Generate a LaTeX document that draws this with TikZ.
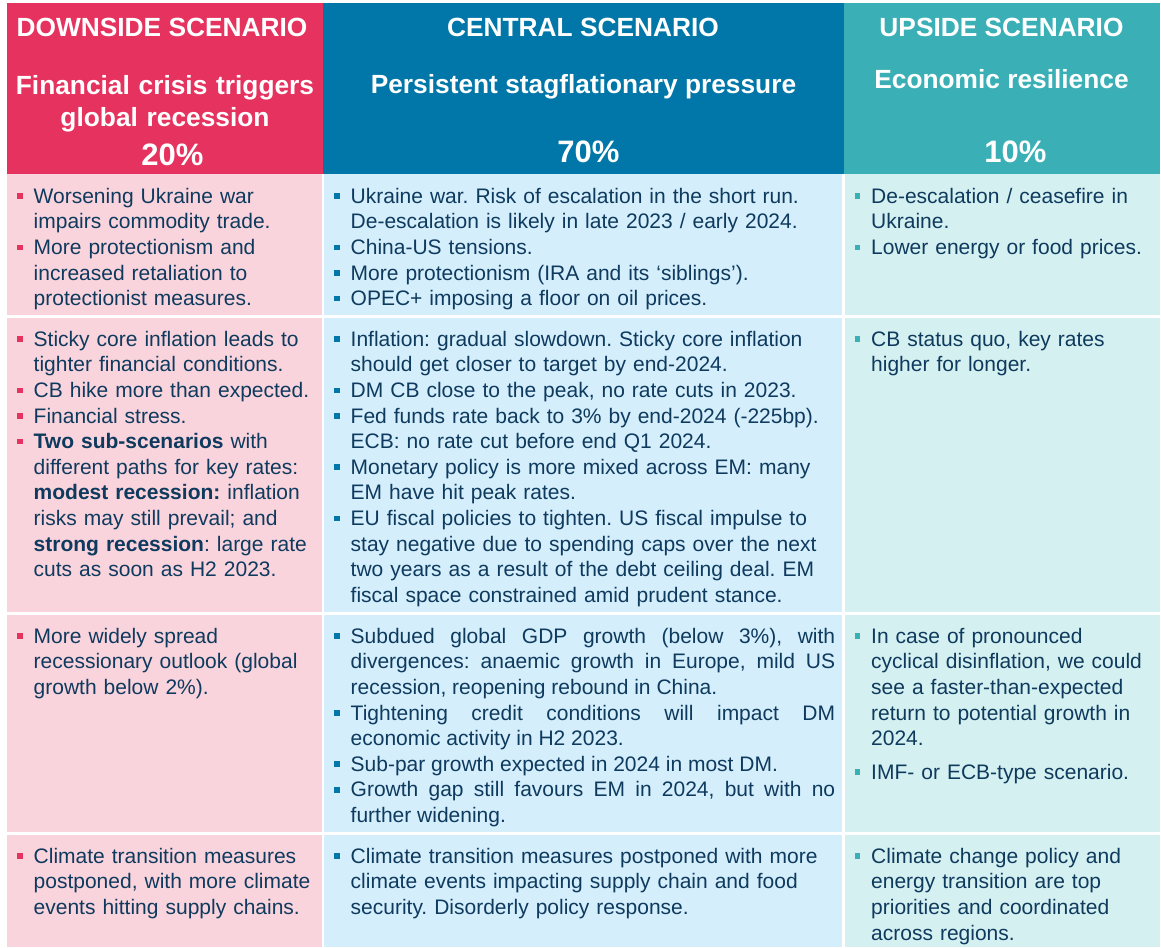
\documentclass[tikz,border=0pt]{standalone}
\usepackage{fontspec}
\setmainfont{Liberation Sans}
\frenchspacing

\definecolor{downred}{HTML}{E6325E}
\definecolor{centblue}{HTML}{0077A8}
\definecolor{upteal}{HTML}{3AB0B6}
\definecolor{downpale}{HTML}{FAD4DC}
\definecolor{centpale}{HTML}{D4EEFC}
\definecolor{uppale}{HTML}{D5F0F0}
\definecolor{inktext}{HTML}{0E3A5E}

% one bullet point with hanging indent
\newcommand{\bul}[2]{\par\noindent\hangindent=16.5pt\hangafter=1\makebox[16.5pt][l]{\strut\textcolor{#1}{\rule[4.3pt]{5.5pt}{5.5pt}}}#2\par}

\begin{document}
\begin{tikzpicture}[x=1pt, y=-1pt,
  cellbox/.style={anchor=north west, inner sep=0pt, text width=#1, align=left, text=inktext, font=\fontsize{21}{25.6}\selectfont},
  cellfull/.style={cellbox=#1, align=justify},
  headtag/.style={anchor=base, inner sep=0pt, text=white, font=\bfseries\fontsize{26.3}{32}\selectfont},
  headpct/.style={anchor=base, inner sep=0pt, text=white, font=\bfseries\fontsize{31}{37}\selectfont}]
\useasboundingbox (0,0) rectangle (1161,947);
% header blocks
\fill[downred] (7,3) rectangle (323,173.5);
\fill[centblue] (323,3) rectangle (844,173.5);
\fill[upteal] (844,3) rectangle (1160,173.5);
% body cells
\foreach \ya/\yb in {173.5/315,318/612,615/831.5,834.5/947}{
  \fill[downpale] (7,\ya) rectangle (321.7,\yb);
  \fill[centpale] (324.3,\ya) rectangle (841.7,\yb);
  \fill[uppale] (845,\ya) rectangle (1160,\yb);
}
% headers
\node[headtag] (downtag) at (162,36.5) {DOWNSIDE SCENARIO};
\node[headtag] (centtag) at (583,36.5) {CENTRAL SCENARIO};
\node[headtag] (uptag) at (1001.5,36.5) {UPSIDE SCENARIO};
\node[headtag, anchor=north, text width=310pt, align=center] (downtitle) at (165,71.6) {\strut Financial crisis triggers\\global recession};
\node[headtag] (centtitle) at (583.5,94) {Persistent stagflationary pressure};
\node[headtag] (uptitle) at (1001.5,88.3) {Economic resilience};
\node[headpct] (downpct) at (172.5,165.5) {20\%};
\node[headpct] (centpct) at (588.5,162) {70\%};
\node[headpct] (uppct) at (1015.5,162) {10\%};
% downside column
\node[cellbox=300pt] (downA) at (17,177.4) {%
  \bul{downred}{Worsening Ukraine war\newline impairs commodity trade.}%
  \bul{downred}{More protectionism and\newline increased retaliation to\newline protectionist measures.}};
\node[cellbox=300pt] (downB) at (17,320.4) {%
  \bul{downred}{Sticky core inflation leads to\newline tighter financial conditions.}%
  \bul{downred}{CB hike more than expected.}%
  \bul{downred}{Financial stress.}%
  \bul{downred}{\textbf{Two sub-scenarios} with\newline different paths for key rates:\newline \textbf{modest recession:} inflation\newline risks may still prevail; and\newline \textbf{strong recession}: large rate\newline cuts as soon as H2 2023.}};
\node[cellbox=300pt] (downC) at (17,617.4) {%
  \bul{downred}{More widely spread\newline recessionary outlook (global\newline growth below 2\%).}};
\node[cellbox=300pt] (downD) at (17,837.4) {%
  \bul{downred}{Climate transition measures\newline postponed, with more climate\newline events hitting supply chains.}};
% central column
\node[cellbox=501pt] (centA) at (334,177.4) {%
  \bul{centblue}{Ukraine war. Risk of escalation in the short run.\newline De-escalation is likely in late 2023 / early 2024.}%
  \bul{centblue}{China-US tensions.}%
  \bul{centblue}{More protectionism (IRA and its ‘siblings’).}%
  \bul{centblue}{OPEC+ imposing a floor on oil prices.}};
\node[cellbox=501pt] (centB) at (334,320.4) {%
  \bul{centblue}{Inflation: gradual slowdown. Sticky core inflation\newline should get closer to target by end-2024.}%
  \bul{centblue}{DM CB close to the peak, no rate cuts in 2023.}%
  \bul{centblue}{Fed funds rate back to 3\% by end-2024 (-225bp).\newline ECB: no rate cut before end Q1 2024.}%
  \bul{centblue}{Monetary policy is more mixed across EM: many\newline EM have hit peak rates.}%
  \bul{centblue}{EU fiscal policies to tighten. US fiscal impulse to\newline stay negative due to spending caps over the next\newline two years as a result of the debt ceiling deal. EM\newline fiscal space constrained amid prudent stance.}};
\node[cellfull=501pt] (centC) at (334,617.4) {%
  \bul{centblue}{Subdued global GDP growth (below 3\%), with\linebreak divergences: anaemic growth in Europe, mild US\linebreak recession, reopening rebound in China.}%
  \bul{centblue}{Tightening credit conditions will impact DM\linebreak economic activity in H2 2023.}%
  \bul{centblue}{Sub-par growth expected in 2024 in most DM.}%
  \bul{centblue}{Growth gap still favours EM in 2024, but with no\linebreak further widening.}};
\node[cellbox=501pt] (centD) at (334,837.4) {%
  \bul{centblue}{Climate transition measures postponed with more\newline climate events impacting supply chain and food\newline security. Disorderly policy response.}};
% upside column
\node[cellbox=300pt] (upA) at (854.5,177.4) {%
  \bul{upteal}{De-escalation / ceasefire in\newline Ukraine.}%
  \bul{upteal}{Lower energy or food prices.}};
\node[cellbox=300pt] (upB) at (854.5,320.4) {%
  \bul{upteal}{CB status quo, key rates\newline higher for longer.}};
\node[cellbox=300pt] (upC) at (854.5,617.4) {%
  \bul{upteal}{In case of pronounced\newline cyclical disinflation, we could\newline see a faster-than-expected\newline return to potential growth in\newline 2024.}\vspace{8pt}%
  \bul{upteal}{IMF- or ECB-type scenario.}};
\node[cellbox=300pt] (upD) at (854.5,837.4) {%
  \bul{upteal}{Climate change policy and\newline energy transition are top\newline priorities and coordinated\newline across regions.}};
\end{tikzpicture}
\end{document}
